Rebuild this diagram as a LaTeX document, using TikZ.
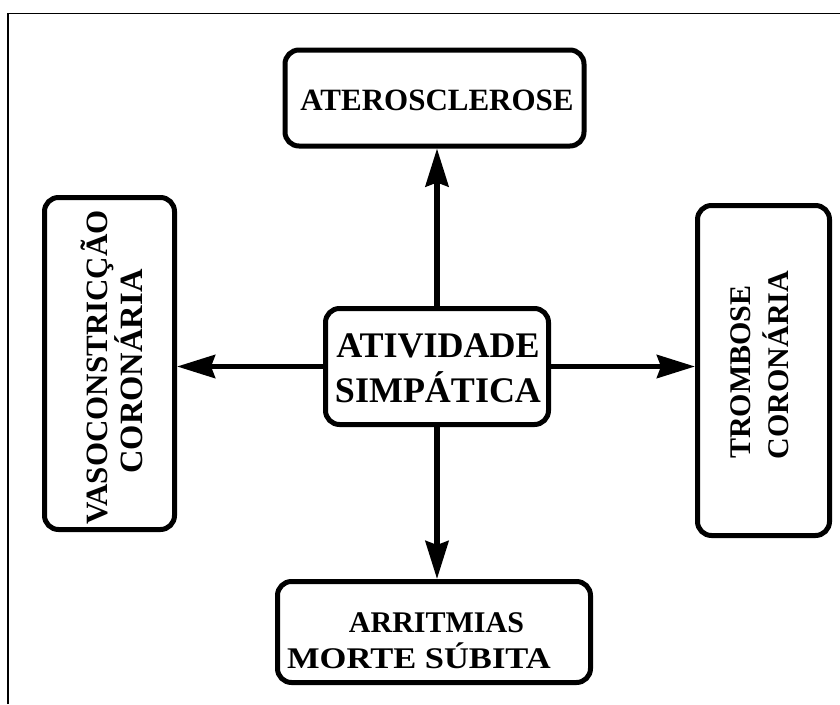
\documentclass[tikz,border=0pt]{standalone}
\usepackage{fontspec}
\setmainfont{Liberation Serif}
\usetikzlibrary{arrows.meta}
\tikzset{
  box/.style={draw, line width=5pt, rounded corners=14pt, inner sep=0pt},
  txt/.style={inner sep=0pt, anchor=base, font=\bfseries},
  arr/.style={line width=5.5pt, -{Stealth[length=38pt, width=23pt, inset=4pt]}},
  frame/.style={line width=1.5pt}
}
\begin{document}
\begin{tikzpicture}[x=1pt, y=-1pt]
\useasboundingbox (0,0) rectangle (840,704);
\coordinate (fa) at (8,704);
\coordinate (fb) at (8,13.5);
\coordinate (fc) at (840,13.5);
\draw[frame] (fa) -- (fb) -- (fc);

\node[box, minimum width=299pt, minimum height=96pt] (top) at (434.5,98) {};
\node[box, minimum width=223pt, minimum height=116pt] (c) at (437,366.5) {};
\node[box, minimum width=313pt, minimum height=101pt] (bot) at (434,632) {};
\node[box, minimum width=130pt, minimum height=332pt] (l) at (109.5,363.5) {};
\node[box, minimum width=132pt, minimum height=330pt] (r) at (763.5,370.5) {};

\node[txt, font=\bfseries\fontsize{31}{36}\selectfont] (t1) at (437,110) {ATEROSCLEROSE};
\node[txt, font=\bfseries\fontsize{36}{45}\selectfont] (c1) at (438,357) {ATIVIDADE};
\node[txt, font=\bfseries\fontsize{36}{45}\selectfont] (c2) at (438,402) {SIMPÁTICA};
\node[txt, font=\bfseries\fontsize{30}{36}\selectfont] (b1) at (436.5,632) {ARRITMIAS};
\node[txt, font=\bfseries\fontsize{30}{36}\selectfont, xscale=1.15] (b2) at (419,668) {MORTE SÚBITA};
\node[txt, rotate=90, font=\bfseries\fontsize{31}{36}\selectfont] (l1) at (107,367.5) {VASOCONSTRICÇÃO};
\node[txt, rotate=90, font=\bfseries\fontsize{32.5}{36}\selectfont] (l2) at (142,371.5) {CORONÁRIA};
\node[txt, rotate=90, font=\bfseries\fontsize{30}{36}\selectfont] (r1) at (750,372) {TROMBOSE};
\node[txt, rotate=90, font=\bfseries\fontsize{30}{36}\selectfont] (r2) at (788,365) {CORONÁRIA};

\draw[arr] (c.north) -- (c.north |- top.south);
\draw[arr] (c.south) -- (c.south |- bot.north);
\draw[arr] (c.west) -- (c.west -| l.east);
\draw[arr] (c.east) -- (c.east -| r.west);
\end{tikzpicture}
\end{document}
